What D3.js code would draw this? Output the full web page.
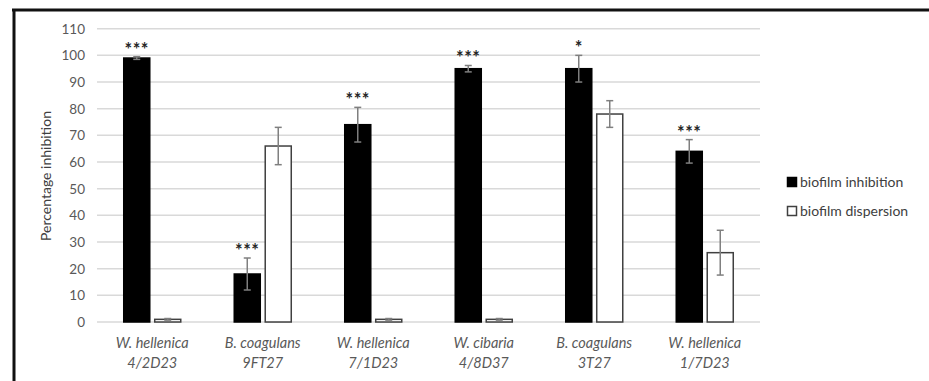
<!DOCTYPE html>
<html>
<head>
<meta charset="utf-8">
<script src="https://cdn.jsdelivr.net/npm/d3@7"></script>
<style>
  html, body { margin: 0; padding: 0; background: #fff; }
  svg { display: block; }
  text { font-family: Lato, "Open Sans", sans-serif; }
</style>
</head>
<body>
<svg id="chart" width="929" height="381"></svg>
<script>
// Strains tested (species on the first line, strain code on the second)
const species = ["W. hellenica", "B. coagulans", "W. hellenica", "W. cibaria", "B. coagulans", "W. hellenica"];
const strains = ["4/2D23", "9FT27", "7/1D23", "4/8D37", "3T27", "1/7D23"];

// Mean percentage inhibition and standard deviation per strain
const inhibition = [99, 18, 74, 95, 95, 64];
const inhibitionErr = [0.5, 6, 6.5, 1.2, 5, 4.4];
const dispersion = [1, 66, 1, 1, 78, 26];
const dispersionErr = [0.3, 7, 0.3, 0.3, 5, 8.4];

// Significance markers on the inhibition bars
const significance = ["***", "***", "***", "***", "*", "***"];

const seriesNames = ["biofilm inhibition", "biofilm dispersion"];
const yTicks = [0, 10, 20, 30, 40, 50, 60, 70, 80, 90, 100, 110];

const svg = d3.select("#chart");

// Outer frame (top and left edges)
svg.append("line").attr("x1", 12).attr("x2", 929).attr("y1", 10).attr("y2", 10)
  .attr("stroke", "#111").attr("stroke-width", 3);
svg.append("line").attr("x1", 14).attr("x2", 14).attr("y1", 9).attr("y2", 381)
  .attr("stroke", "#111").attr("stroke-width", 3);

const plot = { left: 97, right: 760, top: 28.7, bottom: 322 };

const y = d3.scaleLinear().domain([0, 110]).range([plot.bottom, plot.top]);
const x0 = d3.scaleBand().domain(d3.range(species.length))
  .range([plot.left, plot.right]).paddingInner(0.484).paddingOuter(0.242);
const x1 = d3.scaleBand().domain([0, 1]).range([0, x0.bandwidth()]).paddingInner(0.16);

// Horizontal gridlines + tick labels via a left axis
const yAxis = d3.axisLeft(y).tickValues(yTicks).tickSize(0).tickPadding(12);
const gy = svg.append("g").attr("transform", `translate(${plot.left},0)`).call(yAxis);
gy.select(".domain").remove();
gy.selectAll("text").attr("fill", "#595959").style("font-size", "13.5px");
svg.append("g").selectAll("line").data(yTicks).join("line")
  .attr("x1", plot.left).attr("x2", plot.right)
  .attr("y1", d => y(d)).attr("y2", d => y(d))
  .attr("stroke", "#d9d9d9").attr("stroke-width", 1.5);

// Y axis title
svg.append("text")
  .attr("transform", "translate(51,176) rotate(-90)")
  .attr("text-anchor", "middle").attr("fill", "#404040")
  .style("font-size", "14px").text("Percentage inhibition");

// Build grouped rows
const rows = species.map((s, i) => ({
  i,
  values: [
    { k: 0, v: inhibition[i], e: inhibitionErr[i] },
    { k: 1, v: dispersion[i], e: dispersionErr[i] }
  ]
}));

const groups = svg.append("g").selectAll("g").data(rows).join("g")
  .attr("transform", d => `translate(${x0(d.i)},0)`);

groups.selectAll("rect").data(d => d.values).join("rect")
  .attr("x", d => x1(d.k))
  .attr("width", x1.bandwidth())
  .attr("y", d => y(d.v))
  .attr("height", d => y(0) - y(d.v))
  .attr("fill", d => d.k === 0 ? "#000" : "#fff")
  .attr("stroke", d => d.k === 0 ? "#000" : "#404040")
  .attr("stroke-width", 1.5);

// Error bars
const cap = 3.5;
const err = groups.selectAll("g.err").data(d => d.values).join("g").attr("class", "err")
  .attr("stroke", "#7f7f7f").attr("stroke-width", 1.5);
err.append("line")
  .attr("x1", d => x1(d.k) + x1.bandwidth() / 2).attr("x2", d => x1(d.k) + x1.bandwidth() / 2)
  .attr("y1", d => y(d.v + d.e)).attr("y2", d => y(d.v - d.e));
err.append("line")
  .attr("x1", d => x1(d.k) + x1.bandwidth() / 2 - cap).attr("x2", d => x1(d.k) + x1.bandwidth() / 2 + cap)
  .attr("y1", d => y(d.v + d.e)).attr("y2", d => y(d.v + d.e));
err.append("line")
  .attr("x1", d => x1(d.k) + x1.bandwidth() / 2 - cap).attr("x2", d => x1(d.k) + x1.bandwidth() / 2 + cap)
  .attr("y1", d => y(d.v - d.e)).attr("y2", d => y(d.v - d.e));

// Significance asterisks above the inhibition bars
groups.append("text")
  .attr("x", x1(0) + x1.bandwidth() / 2)
  .attr("y", d => y(inhibition[d.i] + inhibitionErr[d.i]) - 1)
  .attr("text-anchor", "middle").attr("fill", "#262626")
  .style("font-size", "18px").style("font-weight", "bold")
  .style("letter-spacing", "0.5px")
  .text(d => significance[d.i]);

// Category labels
const xl = svg.append("g").selectAll("text").data(rows).join("text")
  .attr("x", d => x0(d.i) + x0.bandwidth() / 2)
  .attr("text-anchor", "middle").attr("fill", "#595959")
  .style("font-size", "14.5px").style("font-style", "italic");
xl.append("tspan").attr("x", d => x0(d.i) + x0.bandwidth() / 2).attr("y", 348).text(d => species[d.i]);
xl.append("tspan").attr("x", d => x0(d.i) + x0.bandwidth() / 2).attr("y", 368).text(d => strains[d.i]);

// Legend
const legend = svg.append("g").selectAll("g").data(seriesNames).join("g")
  .attr("transform", (d, i) => `translate(787,${182 + i * 29})`);
legend.append("rect").attr("x", 0.5).attr("y", -4.5).attr("width", 9).attr("height", 9)
  .attr("fill", (d, i) => i === 0 ? "#000" : "#fff")
  .attr("stroke", (d, i) => i === 0 ? "#000" : "#404040").attr("stroke-width", 1.5);
legend.append("text").attr("x", 13).attr("y", 5)
  .attr("fill", "#404040").style("font-size", "14px").text(d => d);
</script>
</body>
</html>
